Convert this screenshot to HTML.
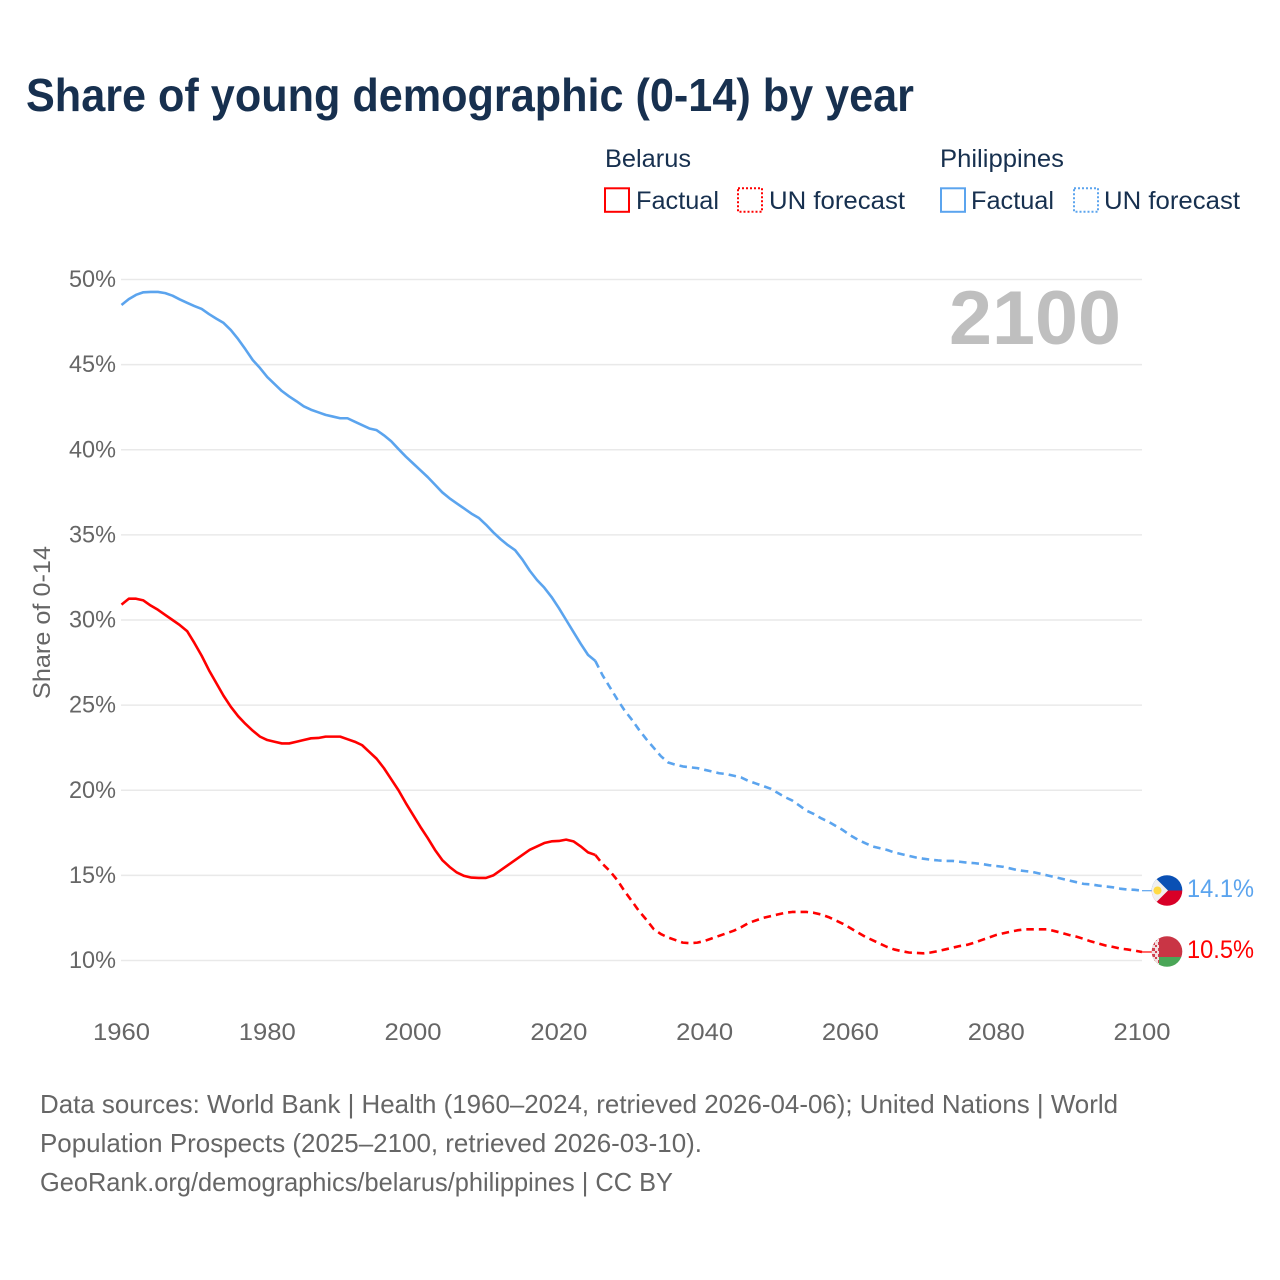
<!DOCTYPE html>
<html lang="en">
<head>
<meta charset="utf-8">
<title>Share of young demographic (0-14) by year</title>
<style>
  html, body { margin: 0; padding: 0; background: #fff; }
  svg { display: block; font-family: "Liberation Sans", sans-serif; }
</style>
</head>
<body>
<svg id="chart" xmlns="http://www.w3.org/2000/svg" width="1280" height="1280" viewBox="0 0 1280 1280">
  <defs>
    <clipPath id="clip-ph"><circle cx="1167" cy="890.5" r="15.3"/></clipPath>
    <clipPath id="clip-by"><circle cx="1167" cy="951.5" r="15.3"/></clipPath>
    <pattern id="by-ornament" width="6" height="6" patternUnits="userSpaceOnUse">
      <rect width="6" height="6" fill="#f2dfe0"/>
      <rect x="0" y="0" width="3" height="3" fill="#d0424f"/>
      <rect x="3" y="3" width="2" height="2" fill="#d0424f"/>
    </pattern>
  </defs>
  <rect width="1280" height="1280" fill="#fff"/>

  <text x="26" y="111" font-size="46" font-weight="700" fill="#17304f" textLength="888" lengthAdjust="spacingAndGlyphs">Share of young demographic (0-14) by year</text>

  <g font-size="25" fill="#17304f">
    <text x="605" y="167" textLength="86" lengthAdjust="spacingAndGlyphs">Belarus</text>
    <rect x="605" y="188.3" width="24" height="23.5" fill="none" stroke="#ff0000" stroke-width="2"/>
    <text x="636" y="209" textLength="83" lengthAdjust="spacingAndGlyphs">Factual</text>
    <rect x="738" y="188.3" width="24" height="23.5" fill="none" stroke="#ff0000" stroke-width="2" stroke-dasharray="2 2"/>
    <text x="769" y="209" textLength="136" lengthAdjust="spacingAndGlyphs">UN forecast</text>
    <text x="940" y="167" textLength="124" lengthAdjust="spacingAndGlyphs">Philippines</text>
    <rect x="941" y="188.3" width="24" height="23.5" fill="none" stroke="#5ba4ee" stroke-width="2"/>
    <text x="971" y="209" textLength="83" lengthAdjust="spacingAndGlyphs">Factual</text>
    <rect x="1074" y="188.3" width="24" height="23.5" fill="none" stroke="#5ba4ee" stroke-width="2" stroke-dasharray="2 2"/>
    <text x="1104" y="209" textLength="136" lengthAdjust="spacingAndGlyphs">UN forecast</text>
  </g>

  <g id="grid"></g>
  <g id="y-ticks"></g>
  <g id="x-ticks"></g>

  <text transform="translate(50,622.5) rotate(-90)" text-anchor="middle" font-size="24" fill="#666" textLength="153" lengthAdjust="spacingAndGlyphs">Share of 0-14</text>

  <text x="949" y="344" font-size="76" font-weight="700" fill="#bfbfbf" textLength="172" lengthAdjust="spacingAndGlyphs">2100</text>

  <g id="series"></g>

  <g clip-path="url(#clip-ph)">
    <rect x="1150" y="874" width="34" height="16.5" fill="#0a50b4"/>
    <rect x="1150" y="890.5" width="34" height="17" fill="#d80027"/>
    <polygon points="1148,870.5 1168,890.5 1148,910.5" fill="#f0f0f0"/>
    <circle cx="1157.5" cy="890.5" r="4" fill="#ffda44"/>
  </g>
  <g clip-path="url(#clip-by)">
    <rect x="1150" y="935" width="34" height="22" fill="#c93545"/>
    <rect x="1150" y="957" width="34" height="12" fill="#4aa657"/>
    <rect x="1150" y="935" width="9" height="34" fill="url(#by-ornament)"/>
  </g>

  <text id="label-ph" x="1187" y="897" font-size="25" fill="#5ba4ee" textLength="67" lengthAdjust="spacingAndGlyphs"></text>
  <text id="label-by" x="1187" y="958" font-size="25" fill="#ff0000" textLength="67" lengthAdjust="spacingAndGlyphs"></text>

  <g font-size="26" fill="#666">
    <text x="40" y="1113" textLength="1078" lengthAdjust="spacingAndGlyphs">Data sources: World Bank | Health (1960–2024, retrieved 2026-04-06); United Nations | World</text>
    <text x="40" y="1152" textLength="662" lengthAdjust="spacingAndGlyphs">Population Prospects (2025–2100, retrieved 2026-03-10).</text>
    <text x="40" y="1191" textLength="633" lengthAdjust="spacingAndGlyphs">GeoRank.org/demographics/belarus/philippines | CC BY</text>
  </g>
</svg>
<script>
const yTickValues = [10, 15, 20, 25, 30, 35, 40, 45, 50];
const xTickValues = [1960, 1980, 2000, 2020, 2040, 2060, 2080, 2100];
const factualStartYear = 1960;
const forecastStartYear = 2025;
const belarusFactual = [30.9,31.25,31.25,31.15,30.85,30.6,30.3,30,29.7,29.35,28.65,27.9,27.05,26.3,25.55,24.9,24.35,23.9,23.5,23.15,22.95,22.85,22.75,22.75,22.85,22.95,23.05,23.07,23.15,23.15,23.15,23,22.85,22.65,22.25,21.85,21.3,20.65,20,19.25,18.55,17.85,17.2,16.5,15.9,15.5,15.17,14.97,14.87,14.85,14.85,15,15.3,15.6,15.9,16.2,16.5,16.7,16.9,17,17.02,17.1,17,16.7,16.35,16.2];
const belarusForecast = [16.2,15.67,15.25,14.73,14.08,13.5,12.9,12.4,11.85,11.55,11.35,11.2,11.05,11.02,11.05,11.15,11.3,11.45,11.6,11.75,11.95,12.2,12.35,12.5,12.6,12.7,12.8,12.85,12.85,12.85,12.8,12.7,12.55,12.35,12.15,11.9,11.65,11.4,11.2,11,10.8,10.65,10.55,10.47,10.45,10.42,10.47,10.55,10.65,10.75,10.85,10.92,11.05,11.2,11.35,11.5,11.6,11.7,11.78,11.83,11.83,11.83,11.83,11.73,11.62,11.5,11.4,11.27,11.12,11,10.88,10.8,10.7,10.65,10.58,10.5];
const philippinesFactual = [48.5,48.85,49.1,49.25,49.27,49.27,49.2,49.05,48.83,48.63,48.44,48.27,47.97,47.7,47.45,47.03,46.5,45.9,45.27,44.8,44.27,43.86,43.45,43.13,42.85,42.55,42.35,42.2,42.05,41.95,41.85,41.85,41.65,41.45,41.25,41.15,40.85,40.5,40.04,39.6,39.2,38.8,38.4,37.95,37.5,37.15,36.85,36.55,36.25,36,35.6,35.15,34.75,34.4,34.1,33.55,32.9,32.35,31.9,31.35,30.7,30,29.3,28.6,27.95,27.6];
const philippinesForecast = [27.6,26.75,26.05,25.35,24.7,24.15,23.55,23,22.5,22,21.63,21.5,21.4,21.35,21.3,21.2,21.1,21,20.95,20.85,20.75,20.55,20.4,20.25,20.1,19.85,19.6,19.4,19.1,18.8,18.6,18.35,18.15,17.9,17.65,17.35,17.1,16.9,16.7,16.6,16.5,16.35,16.25,16.15,16.05,15.98,15.92,15.88,15.85,15.85,15.8,15.75,15.72,15.67,15.6,15.55,15.5,15.4,15.3,15.25,15.2,15.1,15,14.9,14.8,14.7,14.6,14.5,14.47,14.4,14.35,14.3,14.22,14.17,14.15,14.1];

const SVG_NS = 'http://www.w3.org/2000/svg';
const xScale = function (year) { return 121.5 + (year - 1960) * (1020.5 / 140); };
const yScale = function (pct) { return 960.5 - (pct - 10) * (681 / 40); };

function makeSvg(tag) { return document.createElementNS(SVG_NS, tag); }

const gridGroup = document.getElementById('grid');
const yTickGroup = document.getElementById('y-ticks');
yTickValues.forEach(function (v) {
  const gridLine = makeSvg('line');
  
  
  gridLine.setAttribute('x1', 121);
  gridLine.setAttribute('x2', 1142);
  gridLine.setAttribute('y1', yScale(v));
  gridLine.setAttribute('y2', yScale(v));
  gridLine.setAttribute('stroke', '#e9e9e9');
  gridLine.setAttribute('stroke-width', 1.5);
  gridGroup.appendChild(gridLine);

  const tick = makeSvg('text');
  
  
  tick.setAttribute('x', 69);
  tick.setAttribute('y', yScale(v) + 7.5);
  tick.setAttribute('font-size', 24);
  tick.setAttribute('fill', '#666');
  tick.setAttribute('textLength', 47);
  tick.setAttribute('lengthAdjust', 'spacingAndGlyphs');
  tick.textContent = v + '%';
  yTickGroup.appendChild(tick);
});

const xTickGroup = document.getElementById('x-ticks');
xTickValues.forEach(function (year) {
  const tick = makeSvg('text');
  
  
  tick.setAttribute('x', xScale(year) - 28.5);
  tick.setAttribute('y', 1040);
  tick.setAttribute('font-size', 24);
  tick.setAttribute('fill', '#666');
  tick.setAttribute('textLength', 57);
  tick.setAttribute('lengthAdjust', 'spacingAndGlyphs');
  tick.textContent = year;
  xTickGroup.appendChild(tick);
});

function pathFrom(values, startYear) {
  return values.map(function (v, i) {
    return (i ? 'L' : 'M') + xScale(startYear + i).toFixed(2) + ' ' + yScale(v).toFixed(2);
  }).join('');
}

const seriesGroup = document.getElementById('series');

function drawLine(name, values, startYear, color, dashed) {
  const line = makeSvg('path');
  
  
  line.setAttribute('d', pathFrom(values, startYear));
  line.setAttribute('fill', 'none');
  line.setAttribute('stroke', color);
  line.setAttribute('stroke-width', 2.6);
  line.setAttribute('stroke-linejoin', 'round');
  if (dashed) line.setAttribute('stroke-dasharray', '7.5 5');
  seriesGroup.appendChild(line);
}

function drawConnector(name, value, color) {
  const connector = makeSvg('line');
  
  
  connector.setAttribute('x1', xScale(2100));
  connector.setAttribute('x2', 1152);
  connector.setAttribute('y1', yScale(value));
  connector.setAttribute('y2', yScale(value));
  connector.setAttribute('stroke', color);
  connector.setAttribute('stroke-width', 1.2);
  seriesGroup.appendChild(connector);
}

drawLine('philippines-factual-line', philippinesFactual, factualStartYear, '#5ba4ee', false);
drawLine('philippines-forecast-line', philippinesForecast, forecastStartYear, '#5ba4ee', true);
drawLine('belarus-factual-line', belarusFactual, factualStartYear, '#ff0000', false);
drawLine('belarus-forecast-line', belarusForecast, forecastStartYear, '#ff0000', true);

const philippinesEnd = philippinesForecast[philippinesForecast.length - 1];
const belarusEnd = belarusForecast[belarusForecast.length - 1];
drawConnector('philippines-connector', philippinesEnd, '#5ba4ee');
drawConnector('belarus-connector', belarusEnd, '#ff0000');
document.getElementById('label-ph').textContent = philippinesEnd.toFixed(1) + '%';
document.getElementById('label-by').textContent = belarusEnd.toFixed(1) + '%';
</script>
</body>
</html>
